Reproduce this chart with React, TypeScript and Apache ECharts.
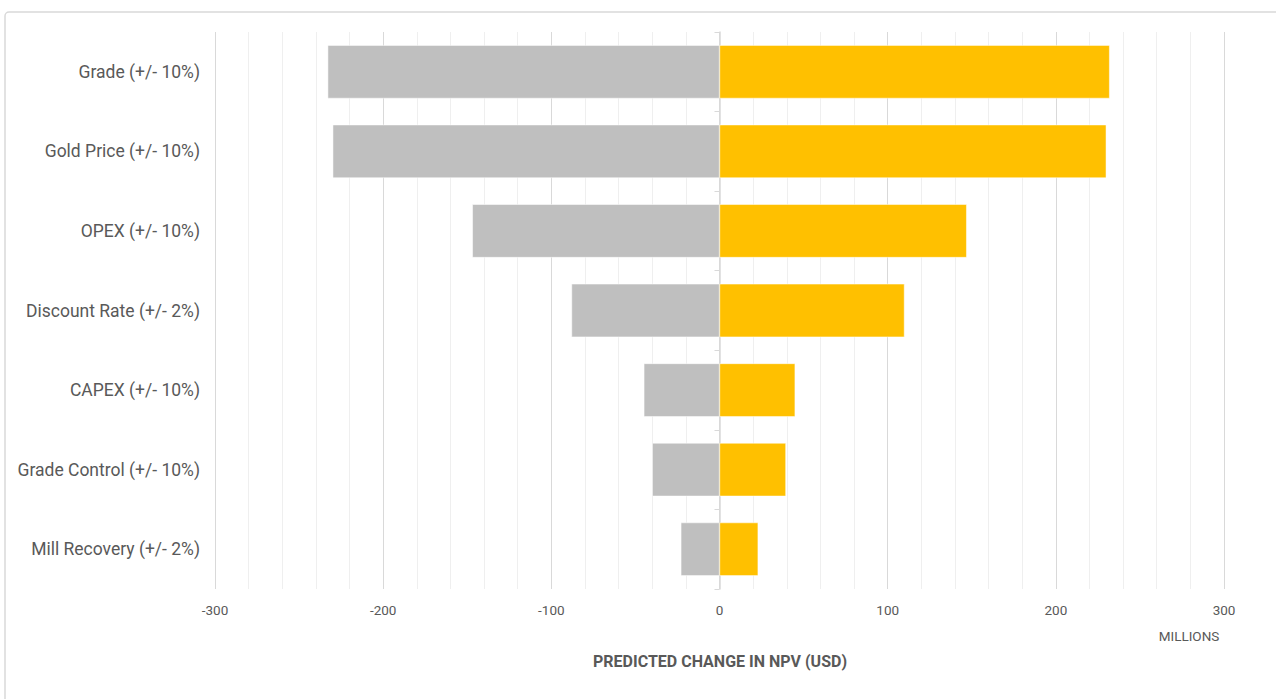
import React, { useEffect, useRef } from "react";
import * as echarts from "echarts";

const categories = [
  "Grade (+/- 10%)",
  "Gold Price (+/- 10%)",
  "OPEX (+/- 10%)",
  "Discount Rate (+/- 2%)",
  "CAPEX (+/- 10%)",
  "Grade Control (+/- 10%)",
  "Mill Recovery (+/- 2%)",
];
const downside = [-233, -230, -147, -88, -45, -40, -23];
const upside = [232, 230, 147, 110, 45, 39.5, 23];
const xTicks = [-300, -200, -100, 0, 100, 200, 300];

export default function App() {
  const ref = useRef<HTMLDivElement>(null);
  useEffect(() => {
    if (!ref.current) return;
    const chart = echarts.init(ref.current, undefined, { renderer: "svg" });
    const labelColor = "#595959";
    chart.setOption({
      animation: false,
      textStyle: { fontFamily: "Roboto" },
      grid: { left: 215, right: 52, top: 32, bottom: 110 },
      xAxis: {
        type: "value",
        min: xTicks[0],
        max: xTicks[xTicks.length - 1],
        interval: 100,
        axisLine: { show: false },
        axisTick: { show: false },
        axisLabel: { color: labelColor, fontSize: 13.5, margin: 14, fontFamily: "Roboto" },
        splitLine: { show: true, lineStyle: { color: "#D9D9D9", width: 1 } },
        minorTick: { show: false, splitNumber: 5 },
        minorSplitLine: { show: true, lineStyle: { color: "#EFEFEF", width: 1 } },
      },
      yAxis: [
        {
          type: "category",
          data: categories,
          inverse: true,
          axisLine: { show: false, onZero: false },
          axisTick: { show: false },
          axisLabel: { color: labelColor, fontSize: 17.5, margin: 15, fontFamily: "Roboto" },
        },
        {
          type: "category",
          data: categories,
          inverse: true,
          position: "left",
          axisLine: { show: true, onZero: true, lineStyle: { color: "#D9D9D9", width: 1.5 } },
          axisTick: { show: true, length: 5, lineStyle: { color: "#D9D9D9" } },
          axisLabel: { show: false },
          splitLine: { show: false },
        },
      ],
      series: [
        {
          type: "bar",
          name: "Downside",
          data: downside,
          barWidth: "67%",
          barGap: "-100%",
          itemStyle: { color: "#BFBFBF", borderColor: "#FFFFFF", borderWidth: 0.5 },
        },
        {
          type: "bar",
          name: "Upside",
          data: upside,
          barWidth: "67%",
          barGap: "-100%",
          itemStyle: { color: "#FFC000", borderColor: "#FFFFFF", borderWidth: 0.5 },
        },
      ],
      graphic: [
        {
          type: "rect",
          shape: { x: 5, y: 12, width: 1300, height: 720, r: 4 },
          style: { fill: "none", stroke: "#D9D9D9", lineWidth: 1.5 },
          silent: true,
          z: -1,
        },
        {
          type: "text",
          x: 720,
          y: 661,
          style: {
            text: "PREDICTED CHANGE IN NPV (USD)",
            fill: labelColor,
            font: "bold 16px Roboto",
            align: "center",
            verticalAlign: "middle",
          },
        },
        {
          type: "text",
          x: 1189,
          y: 636,
          style: {
            text: "MILLIONS",
            fill: labelColor,
            font: "13.5px Roboto",
            align: "center",
            verticalAlign: "middle",
          },
        },
      ],
    });
    return () => chart.dispose();
  }, []);
  return (
    <div
      ref={ref}
      style={{ position: "fixed", left: 0, top: 0, width: 1276, height: 699, background: "#fff" }}
    />
  );
}
